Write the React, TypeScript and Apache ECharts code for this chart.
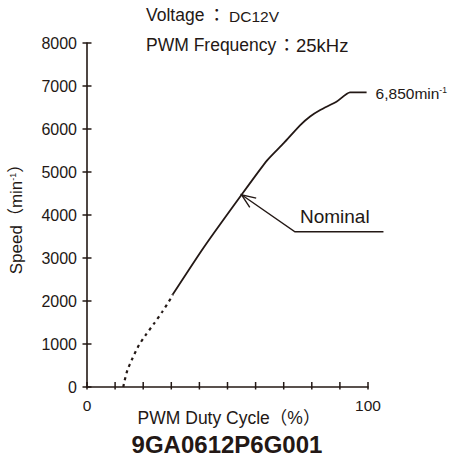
import React, { useEffect, useRef } from "react";
import * as echarts from "echarts";

const INK = "#231815";
const FONT = "'Liberation Sans', Arial, 'Noto Sans CJK JP', sans-serif";

// Duty cycle (%) and speed (min-1), low-duty dashed part
const dashedDuty = [12.9, 13.4, 14.4, 16.2, 18.5, 20.9, 23.9, 26.8, 29.8, 30.5];
const dashedSpeed = [0, 150, 395, 670, 975, 1210, 1480, 1750, 2060, 2150];
// solid part
const solidDuty = [30.5, 41.6, 55, 64.1, 70, 75.9, 79.4, 83, 88.9, 93.6, 99.5];
const solidSpeed = [2150, 3250, 4470, 5270, 5670, 6090, 6290, 6440, 6640, 6850, 6850];

const xTickValues = [0, 10, 20, 30, 40, 50, 60, 70, 80, 90, 100];
const yTickValues = [0, 1000, 2000, 3000, 4000, 5000, 6000, 7000, 8000];
const xTickLabels = ["0", "100"];
const nominalTip = [55, 4470];
const nominalElbow = [74, 3610];
const nominalEnd = [105.5, 3610];
const maxPoint = [99.5, 6850];

const titleLine1 = ["Voltage", "：", "DC12V"];
const titleLine2 = ["PWM Frequency", "：", "25kHz"];
const xAxisTitle = "PWM Duty Cycle（%）";
const modelName = "9GA0612P6G001";

export default function App() {
  const ref = useRef<HTMLDivElement>(null);
  useEffect(() => {
    const chart = echarts.init(ref.current!, null, { renderer: "svg" });
    chart.setOption({
      animation: false,
      grid: { left: 86, right: 87, top: 43, bottom: 79, containLabel: false },
      xAxis: {
        type: "value",
        min: 0,
        max: 100,
        interval: 10,
        axisLine: { show: true, lineStyle: { color: INK, width: 1.6 } },
        splitLine: { show: false },
        axisTick: { show: false },
        axisLabel: {
          color: INK,
          fontSize: 15.5,
          fontFamily: FONT,
          margin: 11,
          formatter: (v: number) => (xTickLabels.includes(String(v)) ? String(v) : ""),
        },
      },
      yAxis: {
        type: "value",
        min: 0,
        max: 8000,
        interval: 1000,
        axisLine: { show: true, lineStyle: { color: INK, width: 1.6 } },
        splitLine: { show: false },
        axisTick: { show: false },
        axisLabel: {
          color: INK,
          fontSize: 16,
          fontFamily: FONT,
          margin: 10,
          formatter: (v: number) => String(v),
        },
        name: "Speed（min{sup|-1}）",
        nameLocation: "middle",
        nameGap: 62,
        nameRotate: 90,
        nameMoveOverlap: false,
        nameTextStyle: {
          color: INK,
          fontSize: 17,
          fontFamily: FONT,
          rich: { sup: { fontSize: 9, fontFamily: FONT, color: INK, verticalAlign: "top" } },
        },
      },
      series: [
        {
          type: "line",
          data: dashedDuty.map((d, i) => [d, dashedSpeed[i]]),
          smooth: 0.2,
          showSymbol: false,
          lineStyle: { color: INK, width: 2.2, type: [3, 4] },
        },
        {
          type: "line",
          data: solidDuty.map((d, i) => [d, solidSpeed[i]]),
          smooth: 0.2,
          showSymbol: false,
          lineStyle: { color: INK, width: 1.8 },
        },
      ],
    });

    const px = (p: number[]) => chart.convertToPixel({ gridIndex: 0 }, p) as number[];
    const tip = px(nominalTip);
    const elbow = px(nominalElbow);
    const end = px(nominalEnd);
    const mx = px(maxPoint);
    const ang = Math.atan2(elbow[1] - tip[1], elbow[0] - tip[0]);
    const headLen = 15;
    const spread = (22 * Math.PI) / 180;
    const h1 = [tip[0] + headLen * Math.cos(ang - spread), tip[1] + headLen * Math.sin(ang - spread)];
    const h2 = [tip[0] + headLen * Math.cos(ang + spread), tip[1] + headLen * Math.sin(ang + spread)];

    const txt = (x: number, y: number, text: string, size: number, extra: any = {}) => ({
      type: "text",
      x,
      y,
      style: { text, fill: INK, fontSize: size, fontFamily: FONT, verticalAlign: "middle", ...extra },
    });

    const xTicks = xTickValues.map((v) => {
      const p = px([v, 0]);
      return {
        type: "polyline",
        shape: { points: [[p[0], p[1] + 2.5], [p[0], p[1] - 5]] },
        style: { stroke: INK, lineWidth: 1.5, fill: "none" },
      };
    });
    const yTicks = yTickValues.map((v) => {
      const p = px([0, v]);
      return {
        type: "polyline",
        shape: { points: [[p[0] - 4.5, p[1]], [p[0] + 4.5, p[1]]] },
        style: { stroke: INK, lineWidth: 1.5, fill: "none" },
      };
    });

    chart.setOption({
      graphic: [
        ...xTicks,
        ...yTicks,
        txt(146, 15, titleLine1[0], 17.5),
        txt(208, 15, titleLine1[1], 17.5),
        txt(229, 16, titleLine1[2], 15.5),
        txt(146, 45, titleLine2[0], 17.5),
        txt(278, 45, titleLine2[1], 17.5),
        txt(296, 45, titleLine2[2], 18.5),
        txt(229, 418, xAxisTitle, 17.5, { align: "center" }),
        txt(227, 444, modelName, 24, { fontWeight: "bold", align: "center" }),
        {
          type: "polyline",
          shape: { points: [tip, elbow, end] },
          style: { stroke: INK, lineWidth: 1.4, fill: "none" },
        },
        {
          type: "polyline",
          shape: { points: [h1, tip, h2] },
          style: { stroke: INK, lineWidth: 1.4, fill: "none" },
        },
        {
          type: "text",
          x: elbow[0] + 5,
          y: elbow[1] - 15,
          style: { text: "Nominal", fill: INK, fontSize: 19, fontFamily: FONT, verticalAlign: "middle" },
        },
        {
          type: "text",
          x: mx[0] + 9,
          y: mx[1] + 1,
          style: {
            text: "6,850min{sup|-1}",
            fill: INK,
            fontSize: 15.5,
            fontFamily: FONT,
            verticalAlign: "middle",
            rich: { sup: { fontSize: 8.5, fontFamily: FONT, fill: INK, verticalAlign: "top" } },
          },
        },
      ],
    });
    return () => chart.dispose();
  }, []);
  return (
    <div
      ref={ref}
      style={{ position: "fixed", left: 0, top: 0, width: 455, height: 466, background: "#fff" }}
    />
  );
}
